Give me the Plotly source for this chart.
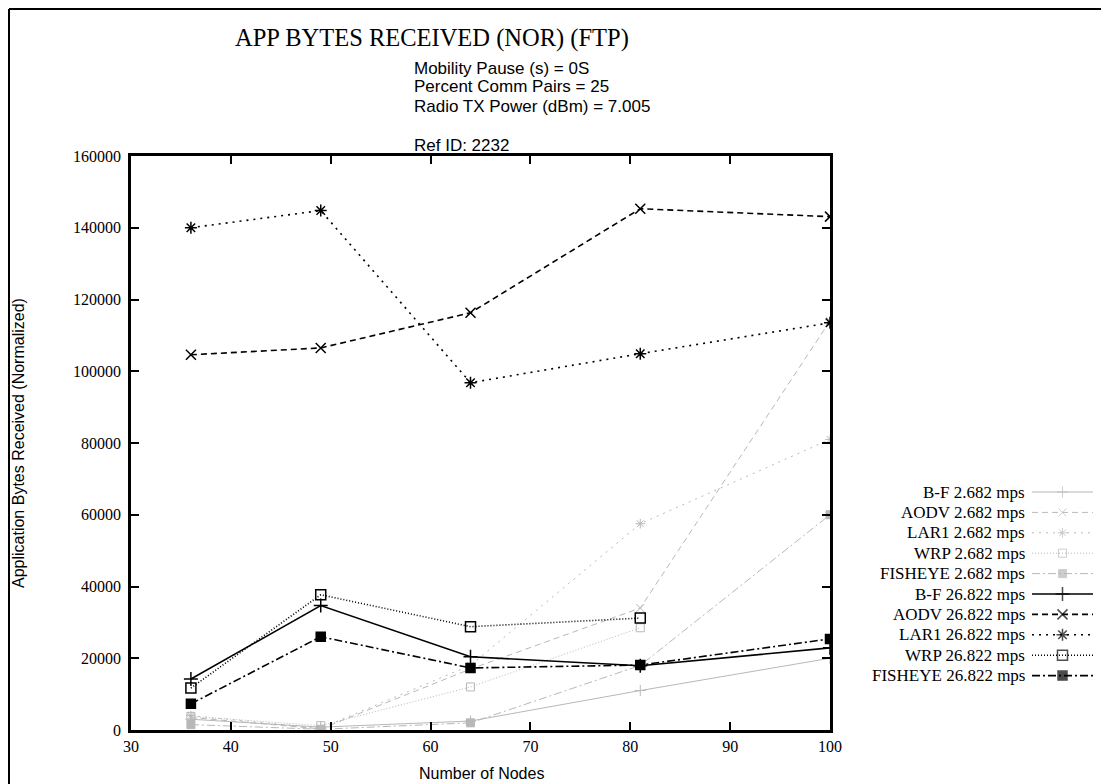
import plotly.graph_objects as go

nodes = [36, 49, 64, 81, 100]

# 26.822 mps series
bf_fast = [14200, 34700, 20400, 17900, 22900]
aodv_fast = [104600, 106500, 116300, 145300, 143100]
lar1_fast = [140000, 144800, 96800, 104900, 113500]
wrp_fast = [11700, 37700, 28800, 31200, None]
fish_fast = [7300, 26000, 17300, 18100, 25400]

# 2.682 mps series (faint)
bf_slow = [3000, 800, 2500, 11000, 20000]
aodv_slow = [3500, 300, 17000, 34000, 114000]
lar1_slow = [4000, 500, 18000, 57500, 81000]
wrp_slow = [3800, 1200, 12000, 28500, None]
fish_slow = [1500, 200, 2000, 18000, 60000]

names = ["B-F", "AODV", "LAR1", "WRP", "FISHEYE"]
symbols = ["cross-thin", "x-thin", "asterisk", "square-open", "square"]
dashes = ["solid", "6px,4px", "2px,5px", "1px,2px", "8px,3px,2px,3px"]

slow = [bf_slow, aodv_slow, lar1_slow, wrp_slow, fish_slow]
fast = [bf_fast, aodv_fast, lar1_fast, wrp_fast, fish_fast]

W, H = 1109, 784
OFF = 8  # page body margin


def X(xp):
    return (xp - OFF) / W


def Y(yp):
    return 1 - (yp - OFF) / H


GRAY = "#b8b8b8"
serif = "Liberation Serif"
sans = "Liberation Sans"

fig = go.Figure()

styles = []
for n, ys, sym, d in zip(names, slow, symbols, dashes):
    styles.append((f"{n} 2.682 mps", ys, dict(color=GRAY, width=1, dash=d),
                   dict(symbol=sym, size=8, color=GRAY, line=dict(color=GRAY, width=1))))
for n, ys, sym, d in zip(names, fast, symbols, dashes):
    styles.append((f"{n} 26.822 mps", ys, dict(color="black", width=1.6, dash=d),
                   dict(symbol=sym, size=10 if sym != "square" else 9, color="black",
                        line=dict(color="black", width=1.5))))

for label, ys, line, marker in styles:
    fig.add_trace(go.Scatter(x=nodes, y=ys, mode="lines+markers", name=label,
                             line=line, marker=marker, connectgaps=False,
                             showlegend=False, xaxis="x", yaxis="y"))

# custom legend (text right-aligned, sample on right, like the reference)
row0, rowstep = 492, 20.4
for i, (label, ys, line, marker) in enumerate(styles):
    m = dict(marker)
    m["size"] = [0, marker["size"], 0]
    fig.add_trace(go.Scatter(x=[0, 0.5, 1], y=[i, i, i], mode="lines+markers",
                             line=line, marker=m, showlegend=False,
                             hoverinfo="skip", xaxis="x2", yaxis="y2"))
    fig.add_annotation(text=label, xref="paper", yref="paper",
                       x=X(1027), y=Y(row0 + i * rowstep), xanchor="right", yanchor="middle",
                       showarrow=False, font=dict(family=serif, size=17, color="black"))

axis_common = dict(
    showline=True, linecolor="black", linewidth=2.5, mirror="ticks",
    ticks="inside", ticklen=8, tickwidth=2, tickcolor="black",
    showgrid=False, zeroline=False, automargin=False,
    tickfont=dict(family=serif, size=16, color="black"),
)

fig.update_layout(
    width=W, height=H, autosize=False,
    margin=dict(l=0, r=0, t=0, b=0),
    paper_bgcolor="white", plot_bgcolor="white",
    showlegend=False,
    xaxis=dict(domain=[X(131), X(830)], range=[30, 100], dtick=10, tick0=30,
               anchor="y", **axis_common),
    yaxis=dict(domain=[Y(730), Y(156)], range=[0, 160000], dtick=20000, tick0=0,
               tickformat="d", ticklabelstandoff=4, anchor="x", **axis_common),
    xaxis2=dict(domain=[X(1032), X(1093)], range=[0, 1], visible=False, anchor="y2",
                fixedrange=True),
    yaxis2=dict(domain=[Y(row0 + 9.5 * rowstep), Y(row0 - 0.5 * rowstep)],
                range=[9.5, -0.5], visible=False, anchor="x2", fixedrange=True),
)

fig.add_annotation(text="APP BYTES RECEIVED (NOR) (FTP)", xref="paper", yref="paper",
                   x=X(432), y=Y(38), xanchor="center", yanchor="middle", showarrow=False,
                   font=dict(family=serif, size=24.5, color="black"))
for txt, yp in [("Mobility Pause (s) = 0S", 68), ("Percent Comm Pairs = 25", 87),
                ("Radio TX Power (dBm) = 7.005", 106)]:
    fig.add_annotation(text=txt, xref="paper", yref="paper", x=X(412), y=Y(yp),
                       xanchor="left", yanchor="middle", showarrow=False,
                       font=dict(family=sans, size=17, color="black"))
fig.add_annotation(text="Ref ID: 2232", xref="paper", yref="paper",
                   x=X(412), y=Y(145), xanchor="left", yanchor="middle", showarrow=False,
                   font=dict(family=sans, size=17, color="black"))
fig.add_annotation(text="Number of Nodes", xref="paper", yref="paper",
                   x=X(481), y=Y(773), xanchor="center", yanchor="middle", showarrow=False,
                   font=dict(family=sans, size=16, color="black"))
fig.add_annotation(text="Application Bytes Received (Normalized)", xref="paper", yref="paper",
                   x=X(18), y=Y(443), xanchor="center", yanchor="middle", showarrow=False,
                   textangle=-90, font=dict(family=sans, size=16, color="black"))

# outer frame edges visible in the reference (left and top)
fig.add_shape(type="line", xref="paper", yref="paper",
              x0=X(9), x1=X(9), y0=Y(800), y1=Y(9),
              line=dict(color="black", width=2), layer="below")
fig.add_shape(type="line", xref="paper", yref="paper",
              x0=X(9), x1=X(1109), y0=Y(9), y1=Y(9),
              line=dict(color="black", width=2), layer="below")

fig.write_html("out.html")
